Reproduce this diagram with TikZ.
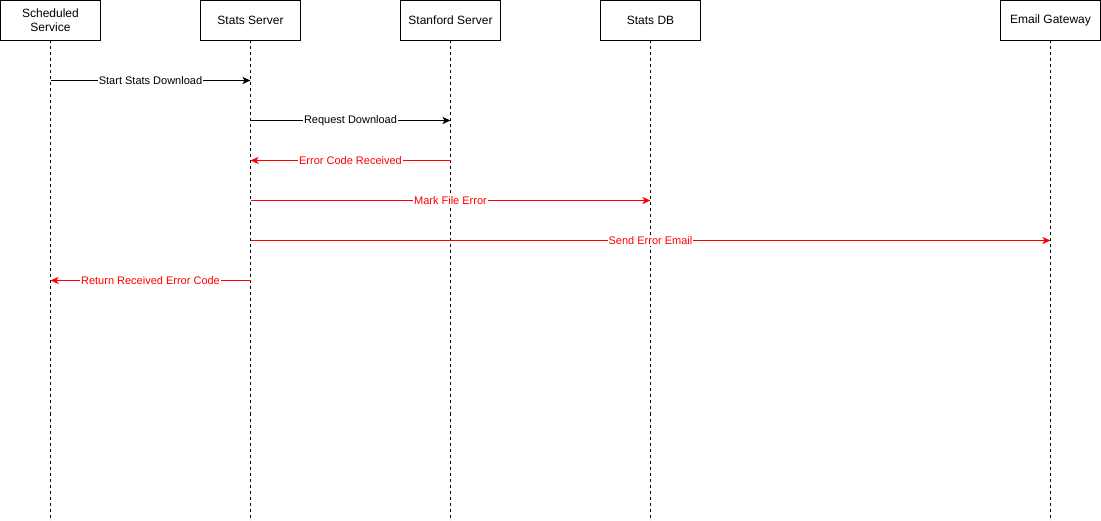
\documentclass[tikz,border=0pt]{standalone}
\usepackage{fontspec}
\setmainfont{Liberation Sans}
\usetikzlibrary{positioning, arrows.meta}

\begin{document}
\begin{tikzpicture}[x=1pt, y=1pt,
	acteur/.style={draw, line width=1pt, minimum width=100pt, minimum height=40pt, inner sep=0pt, outer sep=0pt, align=center, font=\fontsize{12}{14}\selectfont},
	vie/.style={line width=1pt, dash pattern=on 3pt off 3pt},
	msg/.style={line width=1pt, -{Stealth[length=8pt, width=7pt, inset=2pt]}},
	lbl/.style={fill=white, inner sep=1pt, yshift=-0.5pt, font=\fontsize{11}{13}\selectfont}]
		\useasboundingbox (0,0) rectangle (1101,-521);
		
		%acteurs
		\node[acteur] (a0) at (50.5,-20.5) {Scheduled\\Service};
		\node[acteur, right = 100pt of a0] (a1) {Stats Server};
		\node[acteur, right = 100pt of a1] (a2) {Stanford Server};
		\node[acteur, right = 100pt of a2] (a3) {Stats DB};
		\node[acteur, right = 300pt of a3] (a4) {Email Gateway};
		
		%lignes de vie
		\foreach \i in {0,...,4} {
			\coordinate[below = 481pt of a\i] (b\i);
			\draw[vie] (a\i) -- (b\i);
		}
		
		%message 1
		\coordinate[below = 40pt of a0] (m1a);
		\coordinate[below = 40pt of a1] (m1b);
		\draw[msg] (m1a) -- node[lbl] {Start Stats Download} (m1b);
		
		%message 2
		\coordinate[below = 80pt of a1] (m2a);
		\coordinate[below = 80pt of a2] (m2b);
		\draw[msg] (m2a) -- node[lbl] {Request Download} (m2b);
		
		%message 3
		\coordinate[below = 120pt of a2] (m3a);
		\coordinate[below = 120pt of a1] (m3b);
		\draw[msg, red] (m3a) -- node[lbl] {Error Code Received} (m3b);
		
		%message 4
		\coordinate[below = 160pt of a1] (m4a);
		\coordinate[below = 160pt of a3] (m4b);
		\draw[msg, red] (m4a) -- node[lbl] {Mark File Error} (m4b);
		
		%message 5
		\coordinate[below = 200pt of a1] (m5a);
		\coordinate[below = 200pt of a4] (m5b);
		\draw[msg, red] (m5a) -- node[lbl] {Send Error Email} (m5b);
		
		%message 6
		\coordinate[below = 240pt of a1] (m6a);
		\coordinate[below = 240pt of a0] (m6b);
		\draw[msg, red] (m6a) -- node[lbl] {Return Received Error Code} (m6b);
		
	\end{tikzpicture}
\end{document}
